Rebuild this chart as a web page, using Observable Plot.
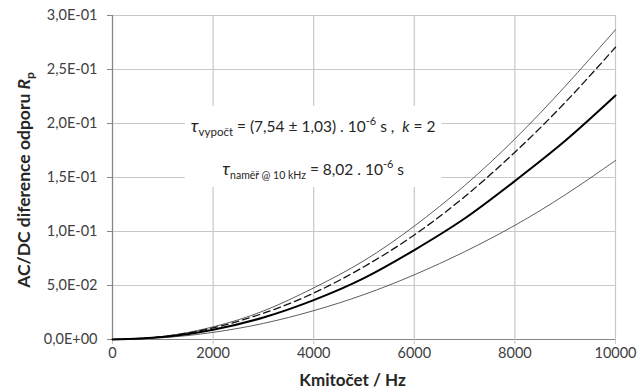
<!DOCTYPE html>
<html>
<head>
<meta charset="utf-8">
<script src="https://cdn.jsdelivr.net/npm/d3@7"></script>
<script src="https://cdn.jsdelivr.net/npm/@observablehq/plot@0.6"></script>
<style>
  html, body { margin: 0; padding: 0; background: #fff; }
  #chart svg { display: block; }
</style>
</head>
<body>
<div id="chart"></div>
<script>
// Frequency (Hz)
const freq = [0, 1000, 2000, 3000, 4000, 5000, 6000, 7000, 8000, 9000, 10000];
// AC/DC difference, upper uncertainty limit (thin)
const rpUpper = [0, 0.0029, 0.0117, 0.0264, 0.0478, 0.0730, 0.1050, 0.1425, 0.1857, 0.2345, 0.2868];
// AC/DC difference with measured tau (dashed)
const rpMeasured = [0, 0.0027, 0.0108, 0.0243, 0.0430, 0.0674, 0.0968, 0.1322, 0.1734, 0.2195, 0.2706];
// AC/DC difference with calculated tau (thick)
const rpCalc = [0, 0.0023, 0.0091, 0.0204, 0.0365, 0.0568, 0.0828, 0.1120, 0.1468, 0.1840, 0.2259];
// AC/DC difference, lower uncertainty limit (thin)
const rpLower = [0, 0.0017, 0.0066, 0.0149, 0.0267, 0.0416, 0.0599, 0.0813, 0.1057, 0.1340, 0.1657];

const xTicks = [0, 2000, 4000, 6000, 8000, 10000];
const yTicks = [0, 0.05, 0.10, 0.15, 0.20, 0.25, 0.30];

const seriesList = [
  {name: "upper", values: rpUpper},
  {name: "measured", values: rpMeasured},
  {name: "calc", values: rpCalc},
  {name: "lower", values: rpLower}
];
const rows = seriesList.flatMap(s => freq.map((f, i) => ({series: s.name, f, v: s.values[i]})));
const of = name => rows.filter(r => r.series === name);

function sciFmt(v) {
  if (v === 0) return "0,0E+00";
  const e = Math.floor(Math.log10(v) + 1e-9);
  const m = v / Math.pow(10, e);
  const sign = e < 0 ? "-" : "+";
  return m.toFixed(1).replace(".", ",") + "E" + sign + String(Math.abs(e)).padStart(2, "0");
}

const FONT = "Lato, 'Open Sans', sans-serif";
const axisGray = "#868686";
const gridGray = "#c8c8c8";

const plot = Plot.plot({
  width: 637,
  height: 391,
  marginLeft: 112,
  marginRight: 22,
  marginTop: 15,
  marginBottom: 52,
  style: {fontFamily: FONT, fontSize: "14px", color: "#404040", background: "#fff"},
  x: {domain: [0, 10000]},
  y: {domain: [0, 0.3]},
  marks: [
    Plot.gridY(yTicks, {stroke: gridGray, strokeOpacity: 1, strokeWidth: 1.2}),
    Plot.gridX(xTicks, {stroke: gridGray, strokeOpacity: 1, strokeWidth: 1.2}),
    Plot.ruleY([0], {stroke: axisGray, strokeWidth: 1.2}),
    Plot.ruleX([0], {stroke: axisGray, strokeWidth: 1.2}),
    Plot.axisY({ticks: yTicks, tickFormat: sciFmt, tickSize: 5, tickPadding: 10, stroke: axisGray, fill: "#404040", fontSize: 14.5, label: null}),
    Plot.axisX({ticks: xTicks, tickFormat: d => String(d), tickSize: 5, tickPadding: 3, stroke: gridGray, fill: "#404040", fontSize: 14.5, label: null}),
    Plot.line(of("lower"), {x: "f", y: "v", curve: "natural", stroke: "#333", strokeWidth: 0.8}),
    Plot.line(of("upper"), {x: "f", y: "v", curve: "natural", stroke: "#333", strokeWidth: 0.8}),
    Plot.line(of("measured"), {x: "f", y: "v", curve: "natural", stroke: "#111", strokeWidth: 1.3, strokeDasharray: "7,4"}),
    Plot.line(of("calc"), {x: "f", y: "v", curve: "natural", stroke: "#000", strokeWidth: 2})
  ]
});

document.getElementById("chart").appendChild(plot);

const svg = d3.select(plot);
const xs = plot.scale("x"), ys = plot.scale("y");

function richText(parent, x, y, parts, opts = {}) {
  const t = parent.append("text")
    .attr("x", x).attr("y", y)
    .attr("text-anchor", opts.anchor || "middle")
    .attr("font-family", FONT)
    .attr("font-size", opts.size || 14)
    .attr("font-weight", opts.weight || "normal")
    .attr("fill", opts.fill || "#262626")
    .style("white-space", "pre");
  if (opts.transform) t.attr("transform", opts.transform);
  let cur = 0;
  for (const p of parts) {
    const target = p.dy || 0;
    const ts = t.append("tspan").text(p.t);
    if (target !== cur) { ts.attr("dy", target - cur); cur = target; }
    if (p.size) ts.attr("font-size", p.size);
    if (p.italic) ts.attr("font-style", "italic");
  }
  return t;
}

// Axis titles
const xMid = (xs.apply(0) + xs.apply(10000)) / 2;
richText(svg, xMid - 11, 386, [{t: "Kmitočet / Hz"}], {weight: "bold", size: 17});
const yMid = (ys.apply(0) + ys.apply(0.3)) / 2;
richText(svg, 0, 0, [
  {t: "AC/DC diference odporu "},
  {t: "R", italic: true},
  {t: "p", size: 12, dy: 4}
], {weight: "bold", size: 17.5, transform: `translate(30,${yMid + 3}) rotate(-90)`});

// Annotation
const ann = svg.append("g");
const annX = xs.apply(4000);
richText(ann, annX, ys.apply(0.1965) + 5, [
  {t: "τ", italic: true, size: 18},
  {t: "vypočt", size: 11.5, dy: 4},
  {t: " = (7,54 ± 1,03) . 10"},
  {t: "-6", size: 11, dy: -7},
  {t: " s ,  "},
  {t: "k", italic: true},
  {t: " = 2"}
], {size: 15.5});
richText(ann, annX, ys.apply(0.1565) + 5, [
  {t: "τ", italic: true, size: 18},
  {t: "naměř @ 10 kHz", size: 10.5, dy: 4},
  {t: " = 8,02 . 10"},
  {t: "-6", size: 11, dy: -7},
  {t: " s"}
], {size: 15.5});
const bb = ann.node().getBBox();
ann.insert("rect", ":first-child")
  .attr("x", bb.x - 6).attr("y", bb.y - 8)
  .attr("width", bb.width + 12).attr("height", bb.height + 14)
  .attr("fill", "#fff");
</script>
</body>
</html>
